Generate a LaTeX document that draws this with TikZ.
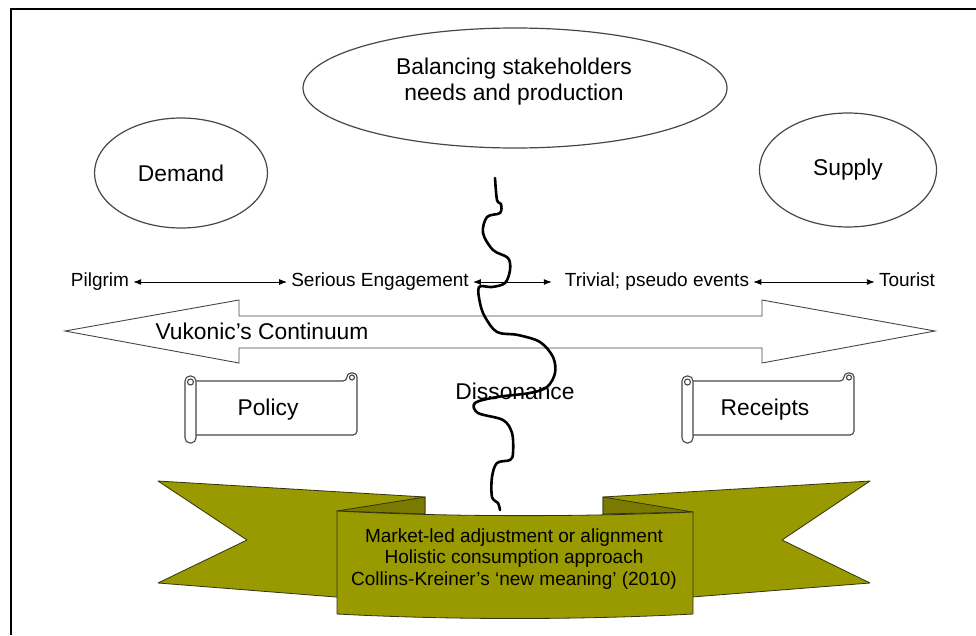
\documentclass[tikz,border=0pt]{standalone}
\usepackage{fontspec}
\setmainfont{Liberation Sans}
\usetikzlibrary{shapes.geometric,arrows.meta}

\definecolor{ribbon}{RGB}{153,153,0}
\definecolor{ribbonfold}{RGB}{122,122,0}
\definecolor{ribbonline}{RGB}{50,50,20}
\definecolor{outline}{RGB}{70,70,70}

\begin{document}
\begin{tikzpicture}[x=1pt,y=-1pt,
  bigtext/.style={font=\fontsize{22.8}{26}\selectfont, align=center},
  smalltext/.style={font=\fontsize{19}{21.3}\selectfont, align=center},
  oval/.style={draw=outline, line width=1.2pt, ellipse, inner sep=0pt},
  twoway/.style={{Latex[length=8pt,width=6pt]}-{Latex[length=8pt,width=6pt]}, line width=0.9pt},
  rowlabel/.style={smalltext, text height=13.6pt, text depth=4pt, inner sep=4pt},
  scrollline/.style={draw=outline, line width=1.1pt}]
\useasboundingbox (0,0) rectangle (976,635);
% frame, only top and left edge show
\draw[line width=2.5pt] (11,635) -- (11,9) -- (976,9);

% ovals
\node[oval, minimum width=424pt, minimum height=120pt] (balance) at (515,88) {};
\node[bigtext] (balancetxt) at (514,82) {Balancing stakeholders\\needs and production};
\node[oval, bigtext, minimum width=173pt, minimum height=110pt] (demand) at (181,173) {Demand};
\node[oval, bigtext, minimum width=177pt, minimum height=114pt] (supply) at (848,170) {Supply};

% continuum arrow
\draw[draw=outline, line width=0.9pt, fill=white] (65,331) -- (239,300) -- (239,316) -- (762,316)
  -- (762,300) -- (935,331) -- (762,363) -- (762,348) -- (239,348) -- (239,363) -- cycle;
\node[bigtext] (vukonic) at (262,331) {Vukonic’s Continuum};

% row of labels
\node[rowlabel] (pilgrim) at (100,282) {Pilgrim};
\node[rowlabel] (serious) at (380,282) {Serious Engagement};
\node[rowlabel] (trivial) at (657,282) {Trivial; pseudo events};
\node[rowlabel] (tourist) at (907,282) {Tourist};
\draw[twoway] (pilgrim) -- (serious);
\draw[twoway, shorten >=9pt] (serious) -- (trivial);
\draw[twoway] (trivial) -- (tourist);

% scrolls
\foreach \dx/\nm/\txt in {0/policy/Policy, 497/receipts/Receipts} {
  \begin{scope}[xshift=\dx pt]
    \draw[scrollline, fill=white, rounded corners=4pt] (347,381) -- (347,373) -- (357,373)
      -- (357,435) -- (191,435) -- (191,381) -- cycle;
    \draw[scrollline, fill=white, rounded corners=5pt] (185,376) rectangle (196,443);
    \draw[scrollline] (190.5,382) circle (3pt);
    \draw[scrollline] (352,377.5) circle (2.5pt);
    \node[bigtext] (\nm) at (268,410) {\txt};
  \end{scope}
}

% ribbon
\begin{scope}[draw=ribbonline, line width=0.8pt, line join=round]
\filldraw[fill=ribbon] (158,481) -- (425,497) -- (425,604) -- (158,583) -- (247,540) -- cycle;
\filldraw[fill=ribbon] (870,481) -- (603,497) -- (603,604) -- (870,583) -- (782,540) -- cycle;
\filldraw[fill=ribbonfold] (425,497) -- (337,511) -- (425,514) -- cycle;
\filldraw[fill=ribbonfold] (603,497) -- (693,512) -- (603,514) -- cycle;
\filldraw[fill=ribbon] (337,511) .. controls (450,517) and (580,517) .. (693,512) -- (693,614)
  .. controls (580,620) and (450,620) .. (337,614) -- cycle;
\end{scope}
\node[smalltext] (banner) at (514,559) {Market-led adjustment or alignment\\Holistic consumption approach\\Collins-Kreiner’s ‘new meaning’ (2010)};

% dissonance line
\node[bigtext] (dissonance) at (515,391) {Dissonance};
\coordinate (wavetop) at (495,178);
\coordinate (waveend) at (500,510);
\draw[line width=2.6pt, line cap=round, line join=round] plot[smooth, tension=0.55] coordinates {
  (wavetop) (497,200) (501,204) (500,213) (487,217) (483,233) (493,250) (508,258) (510,270)
  (505,283) (492,287) (479,287) (480,303) (485,317) (497,332) (518,335) (540,342) (553,357)
  (555,373) (547,387) (530,393) (497,397) (475,403) (478,413) (503,420) (512,433) (513,453)
  (510,460) (497,463) (492,477) (492,497) (498,503) (waveend)};
\end{tikzpicture}
\end{document}
